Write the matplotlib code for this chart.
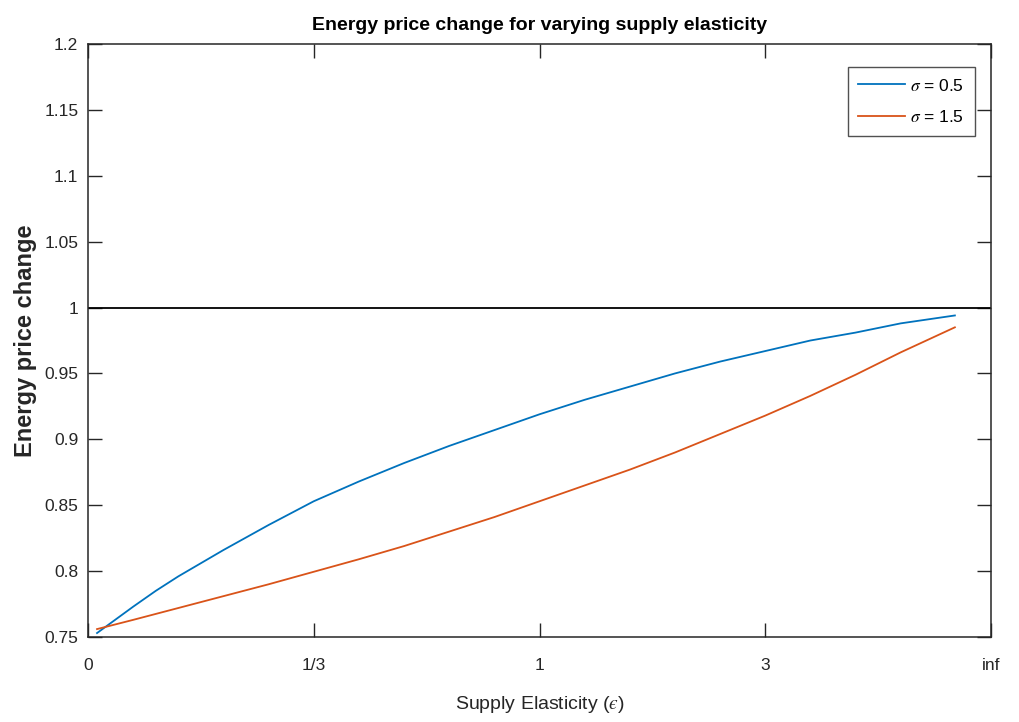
import matplotlib
matplotlib.use("Agg")
import matplotlib.pyplot as plt

plt.rcParams['font.family'] = ['Liberation Sans', 'DejaVu Sans']
plt.rcParams['mathtext.fontset'] = 'stix'

# Position along the axis: eps/(1+eps), so 0 -> 0, 1/3 -> 0.25, 1 -> 0.5, 3 -> 0.75, inf -> 1
share = [0.01, 0.03, 0.05, 0.075, 0.10, 0.125, 0.15, 0.20, 0.25, 0.30, 0.35, 0.40, 0.45,
         0.50, 0.55, 0.60, 0.65, 0.70, 0.75, 0.80, 0.85, 0.90, 0.96]

price_sigma_05 = [0.753, 0.763, 0.773, 0.785, 0.796, 0.806, 0.816, 0.835, 0.853, 0.868,
                  0.882, 0.895, 0.907, 0.919, 0.930, 0.940, 0.950, 0.959, 0.967, 0.975,
                  0.981, 0.988, 0.994]
price_sigma_15 = [0.756, 0.7595, 0.763, 0.7675, 0.772, 0.7765, 0.781, 0.790, 0.7995, 0.809,
                  0.819, 0.830, 0.841, 0.853, 0.865, 0.877, 0.890, 0.904, 0.918, 0.933,
                  0.949, 0.966, 0.985]

x_tick_pos = [0, 0.25, 0.5, 0.75, 1.0]
x_tick_labels = ['0', '1/3', '1', '3', 'inf']
y_ticks = [0.75, 0.8, 0.85, 0.9, 0.95, 1.0, 1.05, 1.1, 1.15, 1.2]
y_tick_labels = ['0.75', '0.8', '0.85', '0.9', '0.95', '1', '1.05', '1.1', '1.15', '1.2']

blue = '#0072BD'
orange = '#D95319'
axis_col = '#262626'

fig = plt.figure(figsize=(10.19, 7.22), dpi=100)
ax = fig.add_axes([88 / 1019, 1 - 637 / 722, (991 - 88) / 1019, (637 - 44) / 722])

ax.plot(share, price_sigma_05, color=blue, lw=1.3, label=r'$\sigma$ = 0.5')
ax.plot(share, price_sigma_15, color=orange, lw=1.3, label=r'$\sigma$ = 1.5')
ax.axhline(1.0, color='black', lw=1.3)

ax.set_xlim(0, 1)
ax.set_ylim(0.75, 1.2)
ax.set_xticks(x_tick_pos)
ax.set_xticklabels(x_tick_labels)
ax.set_yticks(y_ticks)
ax.set_yticklabels(y_tick_labels)

ax.tick_params(direction='in', length=10, width=1, color=axis_col, labelcolor=axis_col,
               labelsize=12.5, top=True, right=True)
ax.tick_params(axis='x', pad=15)
ax.tick_params(axis='y', pad=7)
for s in ax.spines.values():
    s.set_color(axis_col)
    s.set_linewidth(1.1)

ax.set_title('Energy price change for varying supply elasticity', fontsize=14,
             fontweight='bold', color='black', pad=10)
ax.set_xlabel('Supply Elasticity ($\u03f5$)', fontsize=14, color=axis_col, labelpad=15)
ax.set_ylabel('Energy price change', fontsize=17, fontweight='bold', color=axis_col)
ax.yaxis.set_label_coords(-0.057, 0.5)

leg = ax.legend(loc='upper right', bbox_to_anchor=(0.982, 0.961), borderaxespad=0,
                fontsize=12.5, frameon=True, fancybox=False, edgecolor=axis_col,
                handlelength=2.7, handletextpad=0.3, borderpad=0.6, labelspacing=0.9)
leg.get_frame().set_linewidth(1.0)

fig.savefig('out.png', dpi=100)
